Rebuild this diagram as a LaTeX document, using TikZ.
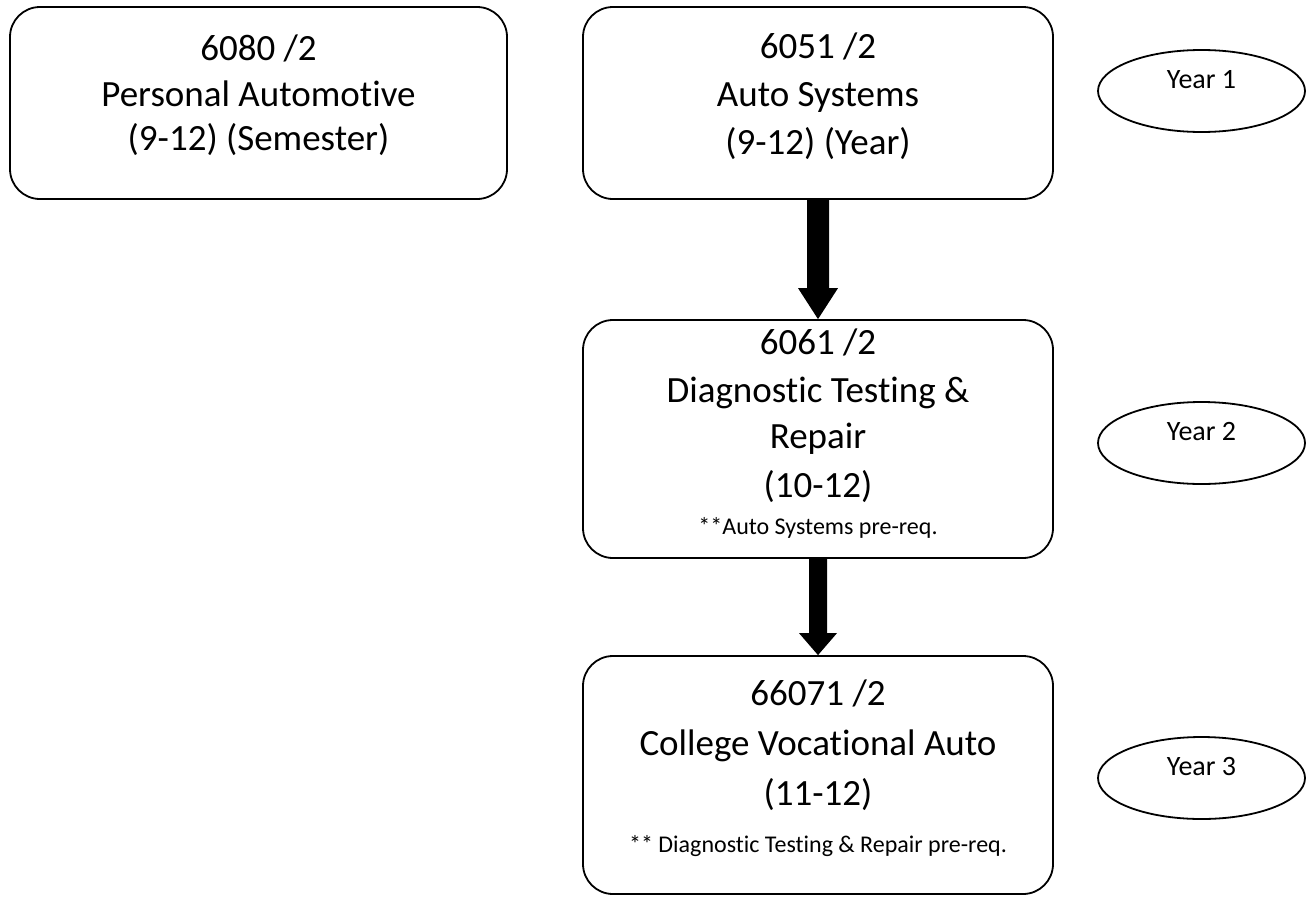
\documentclass[tikz,border=0pt]{standalone}
\usepackage{fontspec}
\setmainfont{Carlito}[Ligatures=CommonOff]
\usetikzlibrary{shapes.geometric,calc}
\newcommand{\notefont}{\fontsize{24}{29}\selectfont}
\begin{document}
\begin{tikzpicture}[x=1pt,y=-1pt,
  box/.style={draw, line width=1.8pt, rounded corners=30pt, align=center,
    font=\fontsize{37}{45}\selectfont, inner sep=0pt},
  yearell/.style={draw, ellipse, line width=1.8pt, minimum width=207pt,
    minimum height=82pt, inner sep=0pt, font=\fontsize{28}{34}\selectfont,
    text height=20pt, text depth=26pt},
  bigarrow/.style={fill=black}
]
\useasboundingbox (0,0) rectangle (1308,897);

\node[box, minimum width=497pt, minimum height=192pt] (b1) at (258.5,103)
  {6080 /2\\[1pt]Personal Automotive\\[-1pt](9-12) (Semester)\\[-25pt]\mbox{}};
\node[box, minimum width=470pt, minimum height=192pt] (b2) at (818,103)
  {6051 /2\\[3pt]Auto Systems\\[3pt](9-12) (Year)\\[-27pt]\mbox{}};
\node[box, minimum width=470pt, minimum height=238pt] (b3) at (818,439)
  {6061 /2\\[3pt]Diagnostic Testing \&\\[1pt]Repair\\[4pt](10-12)\\[-8pt]{\notefont **Auto Systems pre-req.}\\[-31pt]\mbox{}};
\node[box, minimum width=470pt, minimum height=238pt] (b4) at (818,775)
  {66071 /2\\[5pt]College Vocational Auto\\[5pt](11-12)\\[2pt]{\notefont ** Diagnostic Testing \& Repair pre-req.}\\[-28pt]\mbox{}};

\node[yearell] (y1) at (1201.5,91) {Year 1};
\node[yearell] (y2) at (1201.5,443) {Year 2};
\node[yearell] (y3) at (1201.5,778) {Year 3};

\fill[bigarrow] ($(b2.south)+(-11,0)$) -- ($(b3.north)+(-11,-31)$) -- ($(b3.north)+(-20,-31)$)
  -- (b3.north) -- ($(b3.north)+(20,-31)$) -- ($(b3.north)+(11,-31)$)
  -- ($(b2.south)+(11,0)$) -- cycle;
\fill[bigarrow] ($(b3.south)+(-9,0)$) -- ($(b4.north)+(-9,-22)$) -- ($(b4.north)+(-19,-22)$)
  -- (b4.north) -- ($(b4.north)+(19,-22)$) -- ($(b4.north)+(9,-22)$)
  -- ($(b3.south)+(9,0)$) -- cycle;
\end{tikzpicture}
\end{document}
